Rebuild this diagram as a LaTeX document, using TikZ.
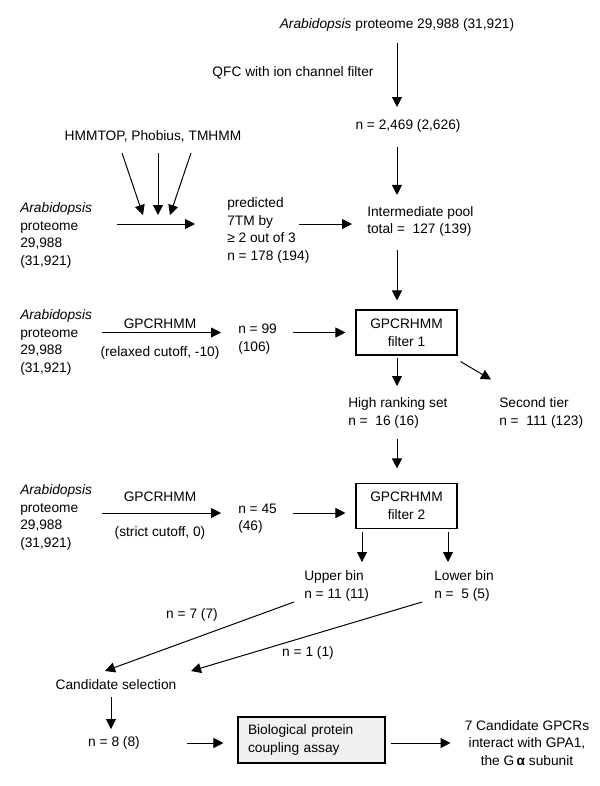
\documentclass[tikz,border=0pt]{standalone}
\usepackage{fontspec}
\setmainfont{Liberation Sans}
\usetikzlibrary{arrows.meta,calc}
\tikzset{
	txt/.style={inner sep=0pt,align=left,font=\fontsize{10.3}{13.2}\selectfont},
	filt/.style={draw,line width=0.8pt,minimum width=75.75pt,minimum height=33.75pt,align=center,inner sep=0pt,font=\fontsize{10.3}{13.2}\selectfont},
	assaybox/.style={draw,line width=0.8pt,fill=gray!12,text width=95.25pt,inner xsep=7.5pt,minimum height=34.5pt,align=left,font=\fontsize{10.3}{13.2}\selectfont},
	arr/.style={-{Triangle[length=7.5pt,width=7.5pt]},line width=0.75pt}
}
\begin{document}
\begin{tikzpicture}[x=0.75pt,y=-0.75pt]
	\useasboundingbox (0,0) rectangle (600,786);
	\coordinate (c) at (397,0);
	\coordinate (cu) at (362,0);
	\coordinate (cl) at (448,0);
	\coordinate (r1) at (0,224);
	\coordinate (r3) at (0,513);
	\coordinate (fan) at (158,215);

	% top column
	\node[txt] (title) at (397,25) {\textit{Arabidopsis} proteome 29,988 (31,921)};
	\node[txt] (qfc) at (293,73) {QFC with ion channel filter};
	\node[txt] (n2469) at (408,126) {n = 2,469 (2,626)};
	\node[txt] (tools) at (153,136) {HMMTOP, Phobius, TMHMM};
	\node[txt,anchor=west] (src1) at (20,235.5) {\textit{Arabidopsis}\\proteome\\29,988\\(31,921)};
	\node[txt,anchor=west] (pred) at (227,230.5) {predicted\\7TM by\\≥ 2 out of 3\\n = 178 (194)};
	\node[txt,anchor=west] (pool) at (367,221.5) {Intermediate pool\\total =\ \ 127 (139)};

	% first GPCRHMM row
	\node[txt,anchor=west] (src2) at (20,342.5) {\textit{Arabidopsis}\\proteome\\29,988\\(31,921)};
	\node[txt] (hmm1) at (160,324) {GPCRHMM};
	\node[txt] (relax) at (160,353) {(relaxed cutoff, -10)};
	\node[txt,anchor=west] (n99) at (238,339) {n = 99\\(106)};
	\node[filt] (filt1) at (406.5,332.5) {GPCRHMM\\filter 1};
	\node[txt,anchor=west] (high) at (348,413) {High ranking set\\n =\ \ 16 (16)};
	\node[txt,anchor=west] (tier2) at (499,413) {Second tier\\n =\ \ 111 (123)};

	% second GPCRHMM row
	\node[txt,anchor=west] (src3) at (20,517.5) {\textit{Arabidopsis}\\proteome\\29,988\\(31,921)};
	\node[txt] (hmm2) at (160,497) {GPCRHMM};
	\node[txt] (strict) at (160,533) {(strict cutoff, 0)};
	\node[txt,anchor=west] (n45) at (238,518.5) {n = 45\\(46)};
	\node[filt] (filt2) at (406.5,506) {GPCRHMM\\filter 2};
	\node[txt,anchor=west] (upper) at (304,586) {Upper bin\\n = 11 (11)};
	\node[txt,anchor=west] (lower) at (434,586) {Lower bin\\n =\ \ 5 (5)};

	% selection and assay
	\node[txt] (n7) at (192,615) {n = 7 (7)};
	\node[txt] (n1) at (308,653) {n = 1 (1)};
	\node[txt] (cand) at (116,685) {Candidate selection};
	\node[txt] (n8) at (114,743) {n = 8 (8)};
	\node[assaybox] (assay) at (311.5,740) {Biological protein\\coupling assay};
	\node[txt,align=center] (result) at (527,743) {7 Candidate GPCRs\\interact with GPA1,\\the G\,\textbf{α} subunit};

	% connectors
	\draw[arr,shorten <=13.5pt,shorten >=14.25pt] (title -| c) -- (n2469 -| c);
	\draw[arr,shorten <=15.75pt,shorten >=19.9pt] (n2469 -| c) -- (pool -| c);
	\draw[arr,shorten <=21.4pt,shorten >=6.75pt] (pool -| c) -- (filt1.north -| c);
	\foreach \s/\e in {-36/-15,0/0,33/12}
		\draw[arr] ($(tools -| fan)+(\s,17)$) -- ($(fan)+(\e,0)$);
	\draw[arr,shorten <=72.75pt,shorten >=24pt] (src1.west |- r1) -- (pred.west |- r1);
	\draw[arr,shorten <=54pt,shorten >=11.25pt] (pred.west |- r1) -- (pool.west |- r1);

	\draw[arr,shorten <=61.5pt,shorten >=12.75pt] (src2.west |- filt1) -- (n99.west |- filt1);
	\draw[arr,shorten <=41.25pt,shorten >=7.5pt] (n99.west |- filt1) -- (filt1.west);
	\draw[arr,shorten <=1.5pt,shorten >=20.25pt] (filt1.south -| c) -- (high -| c);
	\draw[arr] ($(filt1.south east)+(3,6)$) -- ($(tier2.north west)+(-8,-18)$);
	\draw[arr,shorten <=19.5pt,shorten >=10.9pt] (high -| c) -- (filt2.north -| c);

	\draw[arr,shorten <=61.5pt,shorten >=12.75pt] (src3.west |- r3) -- (n45.west |- r3);
	\draw[arr,shorten <=41.25pt,shorten >=7.5pt] (n45.west |- r3) -- (filt2.west |- r3);
	\draw[arr,shorten <=1.9pt,shorten >=18pt] (filt2.south -| cu) -- (upper -| cu);
	\draw[arr,shorten <=1.9pt,shorten >=18pt] (filt2.south -| cl) -- (lower -| cl);

	\draw[arr] ($(upper.west)+(-10,16)$) -- ($(cand)+(-11,-14)$);
	\draw[arr] ($(lower.west)+(-12,16)$) -- ($(cand)+(75,-14)$);
	\draw[arr,shorten <=9pt,shorten >=10.5pt] ($(cand)+(-5,0)$) -- ($(cand |- n8)+(-5,0)$);
	\draw[arr,shorten <=35.25pt,shorten >=10.5pt] (n8) -- (n8 -| assay.west);
	\draw[arr,shorten <=3.75pt,shorten >=10.5pt] (assay.east |- n8) -- (result.west |- n8);
\end{tikzpicture}
\end{document}
